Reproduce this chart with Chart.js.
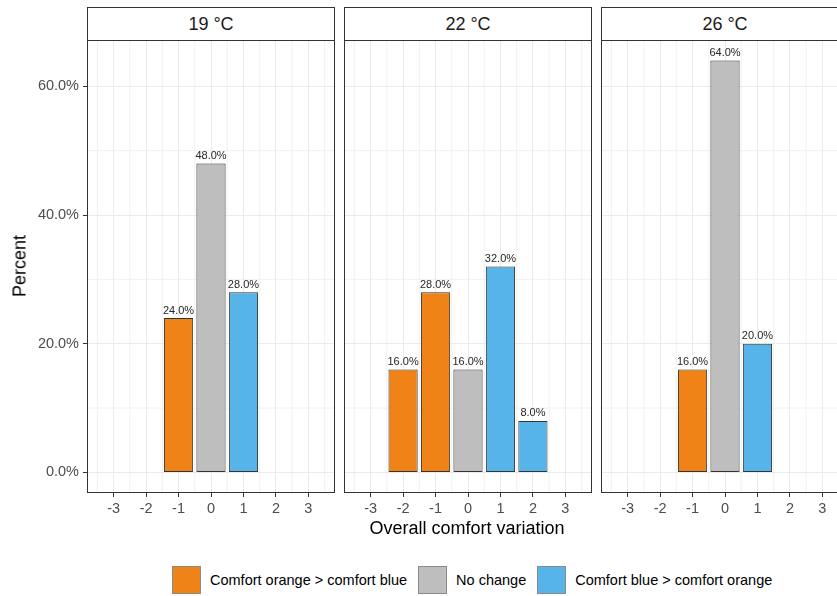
<!DOCTYPE html>
<html><head><meta charset="utf-8">
<script src="https://cdn.jsdelivr.net/npm/chart.js@4/dist/chart.umd.min.js"></script>
<style>
html,body{margin:0;padding:0;background:#fff;overflow:hidden;width:837px;height:596px;font-family:"Liberation Sans",Arial,sans-serif;}
#stage{position:relative;width:837px;height:596px;overflow:hidden;background:#fff;}
.strip{position:absolute;top:7px;height:34px;box-sizing:border-box;border:1px solid #333;background:#fff;text-align:center;line-height:32px;font-size:18px;color:#1a1a1a;}
.wrap{position:absolute;top:40px;}
.ytitle{position:absolute;left:20px;top:266px;transform:translate(-50%,-50%) rotate(-90deg);font-size:18px;color:#000;white-space:nowrap;}
.xtitle{position:absolute;left:467px;top:528px;transform:translate(-50%,-50%);font-size:18px;color:#000;white-space:nowrap;}
.legend{position:absolute;left:172px;top:566px;height:28px;display:flex;align-items:center;}
.key{width:29px;height:28px;box-sizing:border-box;border:1px solid #8a8a8a;}
.ltxt{font-size:14.5px;color:#000;margin-left:9px;margin-right:11px;white-space:nowrap;}
</style></head><body>
<div id="stage"></div>
<script>
// ---- data ----
const panelTitles = ['19 °C', '22 °C', '26 °C'];
const seriesNames = ['Comfort orange > comfort blue', 'No change', 'Comfort blue > comfort orange'];
const xTicks = [-3, -2, -1, 0, 1, 2, 3];
const yTicks = [0, 20, 40, 60];
const orangeX = [[-1], [-2, -1], [-1]];
const orangeY = [[24], [16, 28], [16]];
const grayX = [[0], [0], [0]];
const grayY = [[48], [16], [64]];
const blueX = [[1], [1, 2], [1]];
const blueY = [[28], [32, 8], [20]];
const xAxisTitle = 'Overall comfort variation';
const yAxisTitle = 'Percent';

// ---- styles / layout ----
const seriesColors = ['#F08318', '#BEBEBE', '#56B4E9'];
const FONT = '"Liberation Sans", Arial, sans-serif';
const panelLeft = [87, 344, 601];
const panelW = 248, plotH = 453, xAxisH = 40;
const X_MIN = -3.82, X_MAX = 3.82, Y_MIN = -3.2, Y_MAX = 67.2;
const xMinor = [-3.5, -2.5, -1.5, -0.5, 0.5, 1.5, 2.5, 3.5];
const yMinor = [10, 30, 50];
const stage = document.getElementById('stage');

const deco = {
  id: 'deco',
  beforeDatasetsDraw(chart) {
    const {ctx, chartArea: a, scales: {x, y}} = chart;
    ctx.save();
    ctx.strokeStyle = '#EBEBEB';
    ctx.lineWidth = 0.7;
    xMinor.forEach(v => {
      const px = x.getPixelForValue(v);
      ctx.beginPath(); ctx.moveTo(px, a.top); ctx.lineTo(px, a.bottom); ctx.stroke();
    });
    yMinor.forEach(v => {
      const py = y.getPixelForValue(v);
      ctx.beginPath(); ctx.moveTo(a.left, py); ctx.lineTo(a.right, py); ctx.stroke();
    });
    ctx.restore();
  },
  afterDatasetsDraw(chart) {
    const {ctx, chartArea: a} = chart;
    ctx.save();
    ctx.font = '11px ' + FONT;
    ctx.fillStyle = '#262626';
    ctx.textAlign = 'center';
    ctx.textBaseline = 'bottom';
    chart.data.datasets.forEach((ds, di) => {
      const meta = chart.getDatasetMeta(di);
      meta.data.forEach((el, j) => {
        const v = ds.data[j].y;
        ctx.fillText(v.toFixed(1) + '%', el.x, el.y - 2);
      });
    });
    ctx.strokeStyle = '#333';
    ctx.lineWidth = 1;
    ctx.strokeRect(Math.round(a.left) + 0.5, Math.round(a.top) + 0.5,
                   Math.round(a.right - a.left) - 1, Math.round(a.bottom - a.top) - 1);
    ctx.restore();
  }
};

function pts(xs, ys) { return xs.map((x, k) => ({x: x, y: ys[k]})); }

panelTitles.forEach((title, i) => {
  const strip = document.createElement('div');
  strip.className = 'strip';
  strip.style.left = panelLeft[i] + 'px';
  strip.style.width = panelW + 'px';
  strip.textContent = title;
  stage.appendChild(strip);

  const showY = i === 0;
  const yW = showY ? 60 : 0;
  const wrap = document.createElement('div');
  wrap.className = 'wrap';
  wrap.style.left = (panelLeft[i] - yW) + 'px';
  wrap.style.width = (panelW + yW) + 'px';
  wrap.style.height = (plotH + xAxisH) + 'px';
  const cv = document.createElement('canvas');
  cv.width = panelW + yW;
  cv.height = plotH + xAxisH;
  cv.style.width = cv.width + 'px';
  cv.style.height = cv.height + 'px';
  wrap.appendChild(cv);
  stage.appendChild(wrap);

  const barOpts = {barPercentage: 0.9, categoryPercentage: 1, grouped: false,
                   borderWidth: 1, borderColor: '#333333', borderSkipped: false};
  const datasets = [
    Object.assign({label: seriesNames[0], data: pts(orangeX[i], orangeY[i]), backgroundColor: seriesColors[0]}, barOpts),
    Object.assign({label: seriesNames[1], data: pts(grayX[i], grayY[i]), backgroundColor: seriesColors[1]}, barOpts),
    Object.assign({label: seriesNames[2], data: pts(blueX[i], blueY[i]), backgroundColor: seriesColors[2]}, barOpts)
  ];

  new Chart(cv, {
    type: 'bar',
    data: {datasets},
    plugins: [deco],
    options: {
      responsive: false,
      animation: false,
      devicePixelRatio: 1,
      layout: {padding: 0},
      plugins: {legend: {display: false}, tooltip: {enabled: false}},
      scales: {
        x: {
          type: 'linear', min: X_MIN, max: X_MAX, offset: false,
          afterBuildTicks: s => { s.ticks = xTicks.map(v => ({value: v})); },
          afterFit: s => { s.height = xAxisH; s.paddingLeft = 0; s.paddingRight = 0; },
          grid: {offset: false, color: '#EBEBEB', lineWidth: 1, tickLength: 4, tickColor: '#333'},
          border: {display: false},
          ticks: {font: {family: FONT, size: 14.5}, color: '#4D4D4D', padding: 3,
                  maxRotation: 0, autoSkip: false, callback: v => String(v)}
        },
        y: {
          type: 'linear', min: Y_MIN, max: Y_MAX,
          afterBuildTicks: s => { s.ticks = yTicks.map(v => ({value: v})); },
          afterFit: s => { s.width = yW; s.paddingTop = 0; s.paddingBottom = 0; },
          grid: {color: '#EBEBEB', lineWidth: 1, tickLength: 4, tickColor: '#333', drawTicks: showY},
          border: {display: false},
          ticks: {display: showY, font: {family: FONT, size: 14.5}, color: '#4D4D4D', padding: 4,
                  callback: v => Number(v).toFixed(1) + '%'}
        }
      }
    }
  });
});

const yt = document.createElement('div'); yt.className = 'ytitle'; yt.textContent = yAxisTitle; stage.appendChild(yt);
const xt = document.createElement('div'); xt.className = 'xtitle'; xt.textContent = xAxisTitle; stage.appendChild(xt);

const lg = document.createElement('div'); lg.className = 'legend';
seriesNames.forEach((n, k) => {
  const key = document.createElement('div'); key.className = 'key'; key.style.background = seriesColors[k];
  const t = document.createElement('span'); t.className = 'ltxt'; t.textContent = n;
  lg.appendChild(key); lg.appendChild(t);
});
stage.appendChild(lg);
</script>
</body></html>
